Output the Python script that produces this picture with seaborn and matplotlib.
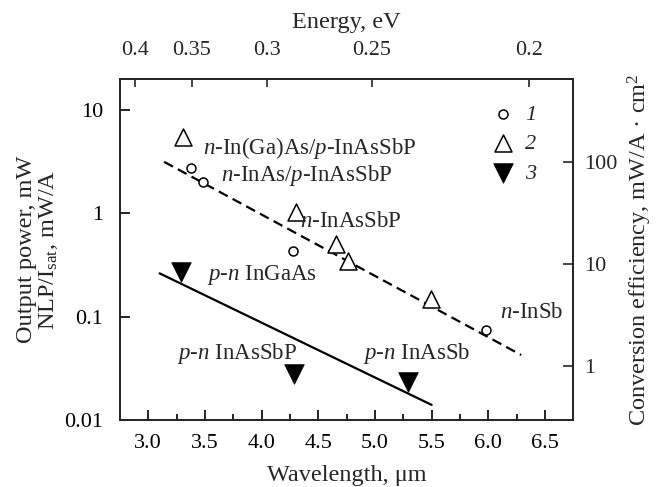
import matplotlib
matplotlib.use('Agg')
import matplotlib.pyplot as plt
from matplotlib.ticker import MultipleLocator, NullLocator
import seaborn as sns

# Series 1 (open circles): wavelength, um / output power
wl_circ = [3.38, 3.48, 4.28, 5.98]
p_circ = [2.77, 2.0, 0.435, 0.074]

# Series 2 (open triangles)
wl_tri = [3.31, 4.30, 4.66, 4.76, 5.49]
p_tri = [5.5, 1.04, 0.51, 0.35, 0.147]

# Series 3 (filled triangles)
wl_fill = [3.29, 4.29, 5.29]
p_fill = [0.27, 0.028, 0.0235]

# trend lines
wl_dash = [3.14, 6.29]
p_dash = [3.16, 0.0426]
wl_solid = [3.10, 5.50]
p_solid = [0.263, 0.014]

wl_ticks = [3.0, 3.5, 4.0, 4.5, 5.0, 5.5, 6.0, 6.5]
wl_ticklabels = ['3.0', '3.5', '4.0', '4.5', '5.0', '5.5', '6.0', '6.5']
energy_ticks = [0.4, 0.35, 0.3, 0.25, 0.2]
energy_ticklabels = ['0.4', '0.35', '0.3', '0.25', '0.2']
left_ticks = [0.01, 0.1, 1, 10]
left_ticklabels = ['0.01', '0.1', '1', '10']
right_ticks = [1, 10, 100]
right_ticklabels = ['1', '10', '100']

sns.set_style('ticks')
plt.rcParams['font.family'] = ['Liberation Serif', 'DejaVu Serif']
plt.rcParams['mathtext.fontset'] = 'custom'
plt.rcParams['mathtext.rm'] = 'Liberation Serif'
plt.rcParams['mathtext.it'] = 'Liberation Serif:italic'
plt.rcParams['font.size'] = 16
plt.rcParams['axes.linewidth'] = 1.3

label_size = 17.5
note_size = 16.5


def wl_to_ev(x):
    return 1.39 / (x + 0.59)


def ev_to_wl(e):
    return 1.39 / e - 0.59


fig = plt.figure(figsize=(6.59, 4.87), dpi=100)
ax = fig.add_axes([0.182, 0.1376, 0.688, 0.700])

# lines
sns.lineplot(x=wl_dash, y=p_dash, ax=ax, color='black', lw=1.6,
             linestyle=(0, (4.5, 2.5)), zorder=2)
sns.lineplot(x=wl_solid, y=p_solid, ax=ax, color='black', lw=1.6, zorder=2)

# points
sns.scatterplot(x=wl_circ, y=p_circ, ax=ax, marker='o', s=42, color='black',
                facecolor='white', edgecolor='black', linewidth=1.1, label='1', zorder=3)
sns.scatterplot(x=wl_tri, y=p_tri, ax=ax, marker='^', s=150, color='black',
                facecolor='white', edgecolor='black', linewidth=1.1, label='2', zorder=3)
sns.scatterplot(x=wl_fill, y=p_fill, ax=ax, marker='v', s=200, color='black',
                edgecolor='black', linewidth=0.5, label='3', zorder=3)

ax.set_yscale('log')
ax.set_xlim(2.75, 6.75)
ax.set_ylim(0.01, 20)

ax.set_xticks(wl_ticks)
ax.set_xticklabels(wl_ticklabels)
ax.xaxis.set_minor_locator(MultipleLocator(0.25))
ax.set_yticks(left_ticks)
ax.set_yticklabels(left_ticklabels)
ax.yaxis.set_minor_locator(NullLocator())
ax.tick_params(axis='both', which='both', direction='in', width=1.2, colors='black')
ax.tick_params(axis='x', which='major', length=7, pad=10)
ax.tick_params(axis='x', which='minor', length=4)
ax.tick_params(axis='y', which='major', length=7, pad=12)

ax.set_xlabel('Wavelength, μm', labelpad=9, fontsize=label_size)
ax.set_ylabel('Output power, mW\nNLP/I$_{\\mathrm{sat}}$, mW/A', labelpad=3,
              linespacing=1.0, fontsize=label_size)

# right axis
ax2 = ax.twinx()
ax2.set_yscale('log')
ax2.set_ylim(0.30, 640)
ax2.set_yticks(right_ticks)
ax2.set_yticklabels(right_ticklabels)
ax2.yaxis.set_minor_locator(NullLocator())
ax2.tick_params(axis='y', which='both', direction='in', length=7, width=1.2, pad=8)
ax2.set_ylabel('Conversion efficiency, mW/A · cm$^2$', labelpad=6, fontsize=label_size)

# top axis (energy)
secax = ax.secondary_xaxis('top', functions=(wl_to_ev, ev_to_wl))
secax.set_xticks(energy_ticks)
secax.set_xticklabels(energy_ticklabels)
secax.xaxis.set_minor_locator(NullLocator())
secax.tick_params(axis='x', which='both', direction='in', length=6, width=1.2, pad=14)
secax.set_xlabel('Energy, eV', labelpad=9, fontsize=label_size)

# annotations
ax.text(3.48, 4.27, '$n$-In(Ga)As/$p$-InAsSbP', va='center', ha='left', fontsize=note_size)
ax.text(3.64, 2.35, '$n$-InAs/$p$-InAsSbP', va='center', ha='left', fontsize=note_size)
ax.text(4.34, 0.83, '$n$-InAsSbP', va='center', ha='left', fontsize=note_size)
ax.text(6.10, 0.109, '$n$-InSb', va='center', ha='left', fontsize=note_size)
ax.text(3.52, 0.254, '$p$-$n$ InGaAs', va='center', ha='left', fontsize=note_size)
ax.text(3.25, 0.0443, '$p$-$n$ InAsSbP', va='center', ha='left', fontsize=note_size)
ax.text(4.89, 0.0443, '$p$-$n$ InAsSb', va='center', ha='left', fontsize=note_size)

handles, labels = ax.get_legend_handles_labels()
ax.legend(handles, labels, loc='upper left', bbox_to_anchor=(0.82, 0.926),
          frameon=False, prop={'style': 'italic', 'size': 16},
          handlelength=1.0, handletextpad=0.5, labelspacing=0.4,
          borderpad=0, borderaxespad=0, scatterpoints=1)

fig.savefig('out.png', dpi=100)
